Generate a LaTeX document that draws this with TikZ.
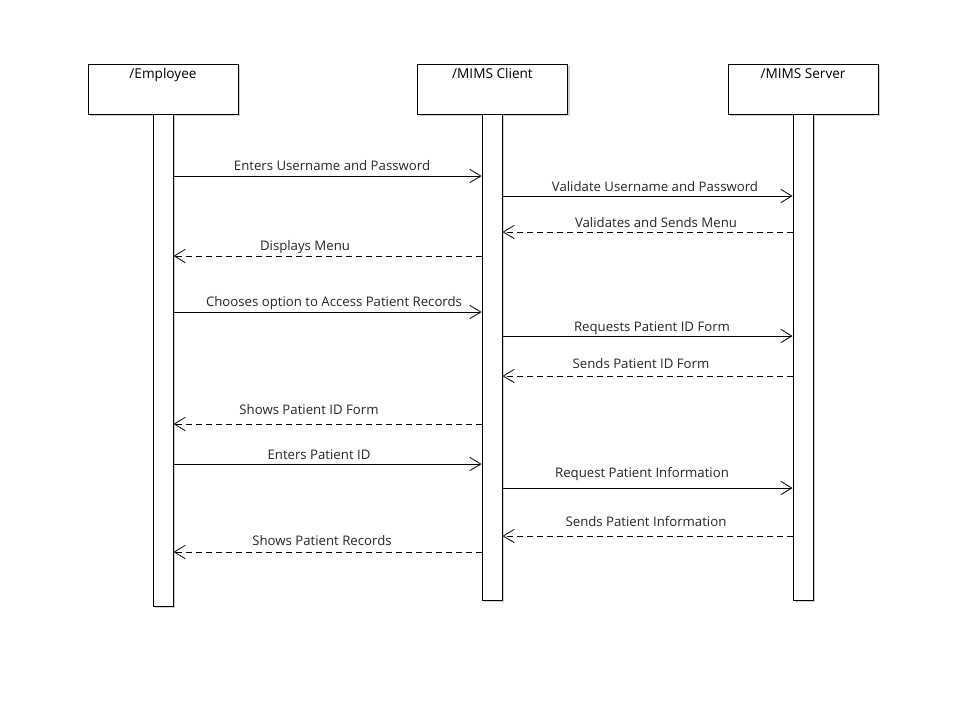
\documentclass[tikz,border=0pt]{standalone}
\usepackage{fontspec}
\setmainfont{Open Sans}
\usetikzlibrary{arrows.meta,shadows}
\begin{document}
\begin{tikzpicture}[x=0.75pt,y=-0.75pt,
  shad/.style={drop shadow={opacity=0.18,shadow xshift=1.5pt,shadow yshift=-1.5pt,fill=black}},
  actor/.style={draw,fill=white,line width=0.75pt,minimum width=150*0.75pt,minimum height=50*0.75pt,inner sep=0pt,shad},
  bar/.style={draw,fill=white,line width=0.75pt,minimum width=20*0.75pt,inner sep=0pt,shad},
  lbl/.style={font=\fontsize{9.9pt}{12pt}\selectfont,inner sep=0pt,text=black!85,anchor=base},
  hdr/.style={font=\fontsize{10.2pt}{12pt}\selectfont,inner sep=0pt,anchor=base},
  msg/.style={line width=0.6pt,-{Straight Barb[length=8.25pt,width=10pt,line width=0.6pt]}},
  ret/.style={msg,dash pattern=on 4.5pt off 3pt}]
\useasboundingbox (0,0) rectangle (966,719);
% actors
\node[actor] (emp) at (163,89) {};
\node[actor] (cli) at (492.5,89) {};
\node[actor] (srv) at (803,89) {};
\node[hdr] (empt) at (163,78) {/Employee};
\node[hdr] (clit) at (492.5,78) {/MIMS Client};
\node[hdr] (srvt) at (803,78) {/MIMS Server};
% activation bars
\node[bar,minimum height=492*0.75pt] (eb) at (163,360) {};
\node[bar,minimum height=486*0.75pt] (cb) at (492,357) {};
\node[bar,minimum height=486*0.75pt] (sb) at (803,357) {};
% messages
\draw[msg] (eb.east |- 0,176) -- node[lbl,xshift=4.5*0.75pt,yshift=6*0.75pt] {Enters Username and Password} (cb.west |- 0,176);
\draw[msg] (cb.east |- 0,196) -- node[lbl,xshift=7.5*0.75pt,yshift=5*0.75pt] {Validate Username and Password} (sb.west |- 0,196);
\draw[ret] (sb.west |- 0,232) -- node[lbl,xshift=8.5*0.75pt,yshift=5*0.75pt] {Validates and Sends Menu} (cb.east |- 0,232);
\draw[ret] (cb.west |- 0,256) -- node[lbl,xshift=-22.5*0.75pt,yshift=6*0.75pt] {Displays Menu} (eb.east |- 0,256);
\draw[msg] (eb.east |- 0,312) -- node[lbl,xshift=6.5*0.75pt,yshift=6*0.75pt] {Chooses option to Access Patient Records} (cb.west |- 0,312);
\draw[msg] (cb.east |- 0,336) -- node[lbl,xshift=4.5*0.75pt,yshift=5*0.75pt] {Requests Patient ID Form} (sb.west |- 0,336);
\draw[ret] (sb.west |- 0,376) -- node[lbl,xshift=-6.5*0.75pt,yshift=8*0.75pt] {Sends Patient ID Form} (cb.east |- 0,376);
\draw[ret] (cb.west |- 0,424) -- node[lbl,xshift=-18.5*0.75pt,yshift=10*0.75pt] {Shows Patient ID Form} (eb.east |- 0,424);
\draw[msg] (eb.east |- 0,464) -- node[lbl,xshift=-8.5*0.75pt,yshift=5*0.75pt] {Enters Patient ID} (cb.west |- 0,464);
\draw[msg] (cb.east |- 0,488) -- node[lbl,xshift=-5.5*0.75pt,yshift=11*0.75pt] {Request Patient Information} (sb.west |- 0,488);
\draw[ret] (sb.west |- 0,536) -- node[lbl,xshift=-1.5*0.75pt,yshift=9.5*0.75pt] {Sends Patient Information} (cb.east |- 0,536);
\draw[ret] (cb.west |- 0,552) -- node[lbl,xshift=-5.5*0.75pt,yshift=7*0.75pt] {Shows Patient Records} (eb.east |- 0,552);
\end{tikzpicture}
\end{document}
